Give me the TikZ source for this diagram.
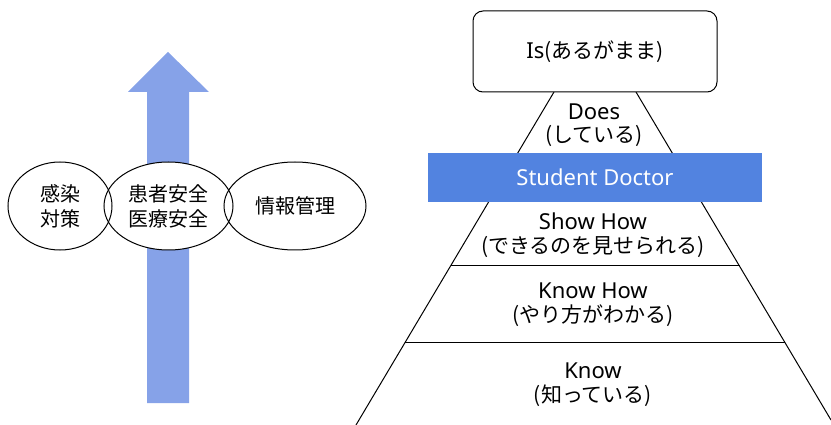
\documentclass[tikz,border=0pt]{standalone}
\usepackage{fontspec}
\setmainfont{Noto Sans CJK JP}
\newfontfamily\latinfont{Noto Sans}
\newcommand{\lat}[1]{{\latinfont\fontsize{22}{24}\selectfont #1}}
\usetikzlibrary{shapes.geometric,calc}
\definecolor{arrowblue}{RGB}{134,162,232}
\definecolor{bandblue}{RGB}{82,131,224}
\tikzset{
  outline/.style={draw=black,line width=1pt},
  lbl/.style={font=\fontsize{21}{24}\selectfont,align=center,inner sep=0pt},
  bubble/.style={ellipse,fill=white,inner sep=0pt,minimum height=88pt,font=\fontsize{20}{25}\selectfont,align=center},
}
\begin{document}
\begin{tikzpicture}[x=1pt,y=-1pt]
\useasboundingbox (0,0) rectangle (831,425);
% big arrow
\fill[arrowblue] (147,403) -- (147,92) -- (128,92) -- (168,52) -- (209,92) -- (189,92) -- (189,403) -- cycle;
% bubbles
\node[bubble,minimum width=104pt] (infect) at (60,206) {感染\\対策};
\node[bubble,minimum width=129pt] (safety) at (168.5,206) {患者安全\\医療安全};
\node[bubble,minimum width=142pt] (info) at (295,206) {情報管理};
\draw[outline] (infect.center) ellipse [x radius=52, y radius=44];
\draw[outline] (safety.center) ellipse [x radius=64.5, y radius=44];
\draw[outline] (info.center) ellipse [x radius=71, y radius=44];
% pyramid
\coordinate (apexL) at (554,92);
\coordinate (apexR) at (636,92);
\coordinate (baseL) at (356,425);
\coordinate (baseR) at (831,420);
\draw[outline] (apexL) -- (baseL);
\draw[outline] (apexR) -- (baseR);
\coordinate (h1L) at (450.5,266);
\coordinate (h1R) at (739.5,266);
\coordinate (h2L) at (405,342);
\coordinate (h2R) at (785,342);
\draw[outline] (h1L) -- (h1R);
\draw[outline] (h2L) -- (h2R);
% top box
\node[outline,rounded corners=10pt,minimum width=244pt,minimum height=81pt,inner sep=0pt,fill=white,
  font=\fontsize{21}{24}\selectfont] (is) at (595,51.5) {\lat{Is}(あるがまま)};
% band
\node[fill=bandblue,minimum width=334pt,minimum height=49pt,inner sep=0pt,text=white] (sd) at (595,177.5) {\lat{Student Doctor}};
% labels
\node[lbl,font=\fontsize{21}{23.5}\selectfont] (does) at (594,125) {\lat{Does}\\(している)};
\node[lbl] (show) at (593,235) {\lat{Show How}\\(できるのを見せられる)};
\node[lbl] (knowhow) at (593,304.5) {\lat{Know How}\\(やり方がわかる)};
\node[lbl] (know) at (593,384.5) {\lat{Know}\\(知っている)};
\end{tikzpicture}
\end{document}
